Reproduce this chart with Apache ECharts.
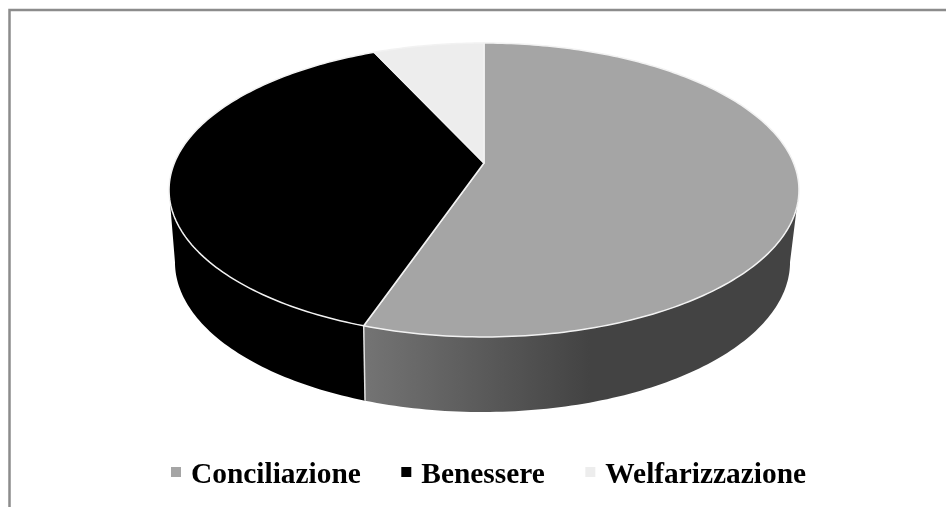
<!DOCTYPE html>
<html>
<head>
<meta charset="utf-8">
<style>html,body{margin:0;padding:0;background:#fff}#c{width:946px;height:507px}</style>
<script src="https://cdn.jsdelivr.net/npm/echarts@6/dist/echarts.min.js"></script>
</head>
<body>
<div id="c"></div>
<script>
var categories = ['Conciliazione', 'Benessere', 'Welfarizzazione'];
var values = [55.2, 38, 6.8];
var topColors = ['#a5a5a5', '#000000', '#ededed'];

var total = values.reduce(function (a, b) { return a + b; }, 0);
var K = 0.1837;
var TOP = { x: 484, y: 163, R: 309.6, A: 142 };
var BOTTOM = { x: 482.5, y: 234.5, R: 302.3, A: 144.9 };
var FRONT_START = Math.acos(-K);
var FRONT_END = 2 * Math.PI - FRONT_START;

function project(p, theta) {
  var u = Math.sin(theta), v = -Math.cos(theta), w = 1 - K * v;
  return [p.x + p.R * u / w, p.y + p.A * v / w];
}
function arc(p, a0, a1) {
  var n = Math.max(2, Math.ceil((a1 - a0) / (Math.PI / 180)));
  var out = [];
  for (var i = 0; i <= n; i++) out.push(project(p, a0 + (a1 - a0) * i / n));
  return out;
}
function sideFill(index) {
  if (index !== 0) return topColors[index];
  return new echarts.graphic.LinearGradient(363, 0, 590, 0, [
    { offset: 0, color: '#747474' },
    { offset: 1, color: '#434343' }
  ], true);
}
function makeSeries(name, index) {
  return {
    type: 'custom',
    name: name,
    coordinateSystem: 'none',
    silent: true,
    itemStyle: { color: topColors[index] },
    data: [[values[index]]],
    renderItem: function (params, api) {
      var before = 0;
      for (var i = 0; i < index; i++) before += values[i];
      var a0 = before / total * 2 * Math.PI;
      var a1 = (before + api.value(0)) / total * 2 * Math.PI;
      var children = [];
      var s0 = Math.max(a0, FRONT_START), s1 = Math.min(a1, FRONT_END);
      if (s1 > s0) {
        children.push({
          type: 'polygon', z2: 1,
          shape: { points: arc(TOP, s0, s1).concat(arc(BOTTOM, s0, s1).reverse()) },
          style: { fill: sideFill(index), stroke: null }
        });
        if (a0 >= FRONT_START) {
          children.push({
            type: 'polyline', z2: 2,
            shape: { points: [project(TOP, a0), project(BOTTOM, a0)] },
            style: { fill: null, stroke: '#e2e2e2', lineWidth: 1.5 }
          });
        }
      }
      children.push({
        type: 'polygon', z2: 10,
        shape: { points: [[TOP.x, TOP.y]].concat(arc(TOP, a0, a1)) },
        style: { fill: topColors[index], stroke: '#f2f2f2', lineWidth: 1.5, lineJoin: 'round' }
      });
      return { type: 'group', children: children };
    }
  };
}

var chart = echarts.init(document.getElementById('c'), null, { renderer: 'canvas' });
chart.setOption({
  animation: false,
  backgroundColor: '#ffffff',
  legend: {
    data: categories,
    left: 166,
    top: 456,
    itemWidth: 10,
    itemHeight: 10,
    itemGap: 40.5,
    icon: 'rect',
    selectedMode: false,
    formatter: '{t|{name}}',
    textStyle: {
      rich: {
        t: {
          fontFamily: 'Liberation Serif',
          fontWeight: 'bold',
          fontSize: 29.4,
          color: '#000',
          padding: [7, 0, 0, 5]
        }
      }
    }
  },
  graphic: [{
    type: 'polyline',
    silent: true,
    shape: { points: [[9.5, 507], [9.5, 10], [946, 10]] },
    style: { fill: null, stroke: '#8c8c8c', lineWidth: 2.5 }
  }],
  series: categories.map(makeSeries)
});
</script>
</body>
</html>
